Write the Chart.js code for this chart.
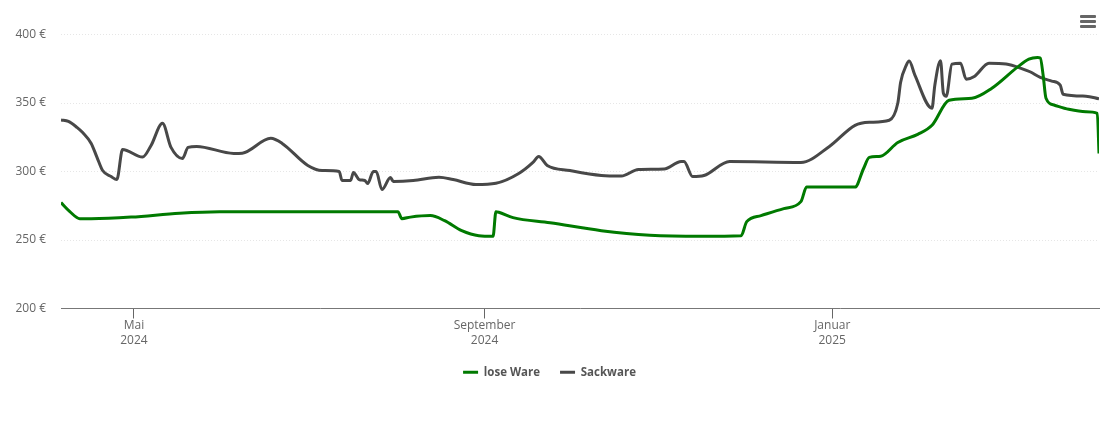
<!DOCTYPE html>
<html>
<head>
<meta charset="utf-8">
<title>Preisentwicklung</title>
<script src="https://cdn.jsdelivr.net/npm/chart.js@4"></script>
<style>
    html, body { margin: 0; padding: 0; background: #fff; }
    #wrap { position: relative; width: 1110px; height: 388px; }
    #menu { position: absolute; left: 1080px; top: 15px; width: 16px; }
    #menu div { height: 3px; background: #666; margin-bottom: 2px; border-radius: 1px; }
</style>
</head>
<body>
<div id="wrap">
    <canvas id="priceChart" width="1110" height="388"></canvas>
    <div id="menu"><div></div><div></div><div></div></div>
</div>
<script>
// days are counted from 1 May 2024
const tickDays = [0, 123, 245];
const tickLabels = [['Mai', '2024'], ['September', '2024'], ['Januar', '2025']];
const yTicks = [200, 250, 300, 350, 400];

const loseDays = [-25.6, -22.5, -19, -15, -1, 16, 30, 58, 92.6, 94, 97, 104, 109, 115, 121, 126, 127, 128, 133, 146, 164, 181, 199, 213, 215, 220, 228, 234, 236, 253, 256, 258, 262, 268, 275, 280, 286, 294, 301, 310, 314, 317, 318, 319, 320, 323, 328, 334, 338, 338.6];
const loseValues = [277.3, 270.7, 265.6, 265.6, 266.7, 269.6, 270.7, 270.7, 270.7, 265.6, 266.7, 267.8, 264.1, 256.8, 253.1, 252.7, 270.7, 270.3, 266.3, 262.6, 256.8, 253.5, 252.7, 253.1, 263.4, 267.8, 272.9, 278, 288.6, 288.6, 302.2, 310.3, 311.2, 321.2, 327.1, 333.7, 352, 353.5, 360.8, 376.2, 382, 383.2, 382.8, 370.3, 353.5, 348.4, 345.4, 343.6, 342.5, 313.2];

const sackDays = [-25.6, -23, -20, -18, -15, -13, -11, -8, -6, -4, 3, 6, 10, 13, 17, 19, 22, 35, 38, 48, 52, 61, 66, 72, 73, 76, 77, 79, 81, 82, 84, 85, 87, 90, 91, 98, 107, 112, 120, 127, 135, 140, 142, 145, 153, 164, 171, 177, 186, 192, 193, 196, 200, 209, 234, 244, 253, 258, 265, 268, 269, 271, 272, 274, 280, 281, 283, 284, 285, 287, 290, 292, 295, 300, 306, 311, 314.4, 318, 322, 325, 326, 334, 338.6];
const sackValues = [337.7, 336.6, 332.2, 328.4, 320.5, 310.5, 300.7, 296.3, 294.1, 316.1, 310.5, 319, 335.2, 317.6, 309.5, 317.6, 318.3, 313.2, 313.4, 324.2, 320.5, 304.4, 300.7, 300, 293.4, 293.4, 299.3, 294.1, 293.4, 291.2, 300, 300, 286.8, 295.6, 292.7, 293.4, 295.8, 294.1, 290.5, 291.4, 298.5, 306.6, 311, 304.4, 300.7, 297.1, 296.7, 301.5, 301.8, 307.3, 307.3, 296.3, 297.1, 307.3, 306.6, 318.3, 333.7, 335.9, 337.4, 349.8, 365.2, 377.7, 380.6, 370.3, 346.2, 363, 380.8, 357.1, 355, 378.4, 379.1, 367.4, 369.6, 379.1, 378.4, 375.5, 372.8, 368.7, 366, 363, 356.4, 355, 353.1];

const toPoints = (days, values) => days.map((d, i) => ({ x: d, y: values[i] }));
const fontFamily = '"Open Sans", "Noto Sans", sans-serif';

new Chart(document.getElementById('priceChart').getContext('2d'), {
    type: 'line',
    data: {
        datasets: [
            {
                label: 'lose Ware',
                data: toPoints(loseDays, loseValues),
                borderColor: '#007a00',
                backgroundColor: '#007a00',
                borderWidth: 3,
                pointRadius: 0,
                cubicInterpolationMode: 'monotone'
            },
            {
                label: 'Sackware',
                data: toPoints(sackDays, sackValues),
                borderColor: '#484848',
                backgroundColor: '#484848',
                borderWidth: 3,
                pointRadius: 0,
                cubicInterpolationMode: 'monotone'
            }
        ]
    },
    options: {
        responsive: false,
        animation: false,
        layout: { padding: { left: 0, right: 11, top: 34.5, bottom: 0 } },
        scales: {
            x: {
                type: 'linear',
                min: -25.6,
                max: 338.6,
                afterBuildTicks: axis => { axis.ticks = tickDays.map(d => ({ value: d })); },
                afterFit: axis => { axis.height = 38; },
                grid: { drawOnChartArea: false, drawTicks: true, tickLength: 10, color: '#666' },
                border: { color: '#777', width: 1 },
                ticks: {
                    maxRotation: 0,
                    autoSkip: false,
                    padding: 0,
                    color: '#666',
                    font: { family: fontFamily, size: 12, lineHeight: 1.25 },
                    callback: value => tickLabels[tickDays.indexOf(value)]
                }
            },
            y: {
                min: 200,
                max: 400,
                afterBuildTicks: axis => { axis.ticks = yTicks.map(v => ({ value: v })); },
                afterFit: axis => { axis.width = 61; },
                grid: { drawTicks: false, color: '#e6e6e6' },
                border: { display: false, dash: [1, 2] },
                ticks: {
                    padding: 15,
                    color: '#666',
                    font: { family: fontFamily, size: 12 },
                    callback: value => value + ' €'
                }
            }
        },
        plugins: {
            tooltip: { enabled: false },
            legend: {
                position: 'bottom',
                labels: {
                    usePointStyle: true,
                    pointStyle: 'line',
                    pointStyleWidth: 15,
                    boxHeight: 12,
                    padding: 20,
                    color: '#555',
                    font: { family: fontFamily, size: 11.5, weight: 'bold' }
                }
            }
        }
    }
});
</script>
</body>
</html>
